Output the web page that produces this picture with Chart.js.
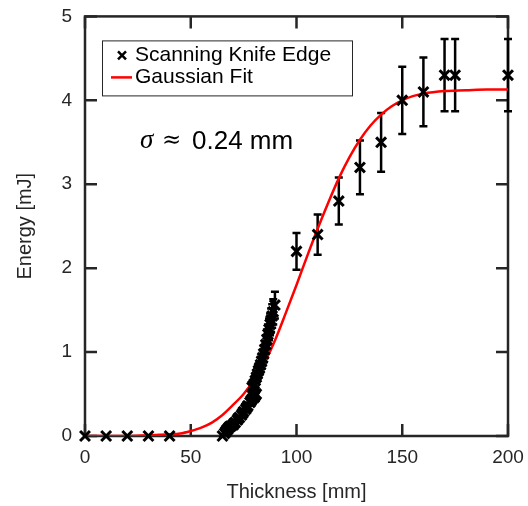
<!DOCTYPE html>
<html>
<head>
<meta charset="utf-8">
<script src="https://cdn.jsdelivr.net/npm/chart.js@4.4.1/dist/chart.umd.min.js"></script>
<style>
  html, body { margin: 0; padding: 0; background: #fff; }
  #wrap { width: 528px; height: 506px; }
</style>
</head>
<body>
<div id="wrap"><canvas id="myChart"></canvas></div>
<script>
// knife edge scan (thickness in mm, energy in mJ, +/- error)
const knifeX = [0, 10, 20, 30, 40,
  65, 66, 66.5, 67, 67.5, 68, 68.5, 69, 70, 70.5, 71, 72, 72.5, 73, 74, 74.5, 75, 76, 76.5, 77, 78, 78.5, 79, 80, 80.5, 81,
  79, 79.5, 80, 80.5, 81, 81.5, 82, 82.5, 83, 83.5, 84, 84.5, 85, 85.5, 86, 86.5, 87, 87.5, 88, 88.5, 89, 89.8,
  100, 110, 120, 130, 140, 150, 160, 170, 175, 200];
const knifeY = [0, 0, 0, 0, 0,
  0, 0.03, 0.05, 0.07, 0.08, 0.1, 0.11, 0.12, 0.13, 0.15, 0.16, 0.19, 0.21, 0.22, 0.25, 0.27, 0.29, 0.32, 0.34, 0.36, 0.4, 0.42, 0.44, 0.46, 0.48, 0.5,
  0.58, 0.6, 0.62, 0.66, 0.7, 0.74, 0.78, 0.81, 0.85, 0.89, 0.93, 0.98, 1.03, 1.09, 1.15, 1.21, 1.27, 1.33, 1.38, 1.43, 1.48, 1.56,
  2.2, 2.4, 2.8, 3.2, 3.5, 4.0, 4.1, 4.3, 4.3, 4.3];
const knifeErr = [0, 0, 0, 0, 0,
  0, 0, 0.01, 0.01, 0.01, 0.01, 0.01, 0.01, 0.01, 0.02, 0.02, 0.02, 0.02, 0.02, 0.03, 0.03, 0.03, 0.03, 0.03, 0.04, 0.04, 0.04, 0.04, 0.05, 0.05, 0.05,
  0.06, 0.06, 0.06, 0.07, 0.07, 0.07, 0.08, 0.08, 0.09, 0.09, 0.09, 0.1, 0.1, 0.11, 0.12, 0.12, 0.13, 0.13, 0.14, 0.14, 0.15, 0.16,
  0.22, 0.24, 0.28, 0.32, 0.35, 0.4, 0.41, 0.43, 0.43, 0.43];

// gaussian fit curve
const fitX = [0, 10, 20, 30, 40, 45, 50, 55, 60, 65, 70, 75, 80, 85, 90, 95, 100, 105, 110, 115, 120, 125, 130, 135, 140, 145, 150, 155, 160, 170, 180, 190, 200];
const fitY = [0, 0, 0, 0.01, 0.02, 0.03, 0.06, 0.1, 0.16, 0.25, 0.37, 0.5, 0.67, 0.88, 1.15, 1.47, 1.8, 2.14, 2.47, 2.78, 3.07, 3.32, 3.53, 3.7, 3.83, 3.93, 4.0, 4.05, 4.08, 4.11, 4.12, 4.13, 4.13];

const xTicks = [0, 50, 100, 150, 200];
const yTicks = [0, 1, 2, 3, 4, 5];
const seriesNames = ["Scanning Knife Edge", "Gaussian Fit"];

const axisColor = "#262626";
const sans = "'Liberation Sans', Arial, sans-serif";

// box + inward ticks on all four sides, then error bars
const framePlugin = {
  id: "frame",
  beforeDatasetsDraw(chart) {
    const { ctx, chartArea: a, scales: { x, y } } = chart;
    ctx.save();
    ctx.strokeStyle = axisColor;
    ctx.lineWidth = 2.5;
    ctx.strokeRect(a.left, a.top, a.right - a.left, a.bottom - a.top);
    ctx.beginPath();
    xTicks.forEach((v) => {
      const px = x.getPixelForValue(v);
      ctx.moveTo(px, a.bottom); ctx.lineTo(px, a.bottom - 12);
      ctx.moveTo(px, a.top); ctx.lineTo(px, a.top + 12);
    });
    yTicks.forEach((v) => {
      const py = y.getPixelForValue(v);
      ctx.moveTo(a.left, py); ctx.lineTo(a.left + 12, py);
      ctx.moveTo(a.right, py); ctx.lineTo(a.right - 12, py);
    });
    ctx.stroke();

    ctx.strokeStyle = "#000";
    ctx.lineWidth = 2.5;
    ctx.beginPath();
    knifeX.forEach((v, i) => {
      const e = knifeErr[i];
      if (!e) return;
      const px = x.getPixelForValue(v);
      const y1 = y.getPixelForValue(knifeY[i] + e);
      const y2 = y.getPixelForValue(knifeY[i] - e);
      ctx.moveTo(px, y1); ctx.lineTo(px, y2);
      ctx.moveTo(px - 4, y1); ctx.lineTo(px + 4, y1);
      ctx.moveTo(px - 4, y2); ctx.lineTo(px + 4, y2);
    });
    ctx.stroke();
    ctx.restore();
  },
  afterDraw(chart) {
    const { ctx, chartArea: a } = chart;
    ctx.save();
    // legend box
    const lx = a.left + 17, ly = a.top + 24;
    ctx.fillStyle = "#fff";
    ctx.fillRect(lx, ly, 250, 55);
    ctx.strokeStyle = axisColor;
    ctx.lineWidth = 1;
    ctx.strokeRect(lx + 0.5, ly + 0.5, 250, 55);

    ctx.strokeStyle = "#000";
    ctx.lineWidth = 2.5;
    ctx.beginPath();
    const mx = lx + 20, my = ly + 15;
    ctx.moveTo(mx - 4, my - 4); ctx.lineTo(mx + 4, my + 4);
    ctx.moveTo(mx - 4, my + 4); ctx.lineTo(mx + 4, my - 4);
    ctx.stroke();

    ctx.strokeStyle = "#ff0000";
    ctx.beginPath();
    ctx.moveTo(lx + 9, ly + 37); ctx.lineTo(lx + 30, ly + 37);
    ctx.stroke();

    ctx.fillStyle = "#000";
    ctx.font = "21px " + sans;
    ctx.textBaseline = "middle";
    ctx.fillText(seriesNames[0], lx + 33, ly + 15);
    ctx.fillText(seriesNames[1], lx + 33, ly + 37);

    // sigma annotation
    const ty = a.top + 125;
    ctx.font = "italic 27px 'Liberation Serif', 'DejaVu Serif', serif";
    ctx.fillText("σ", a.left + 55, ty);
    ctx.font = "23px 'DejaVu Serif', serif";
    ctx.fillText("≈", a.left + 77, ty);
    ctx.font = "26px " + sans;
    ctx.fillText("0.24 mm", a.left + 107, ty);
    ctx.restore();
  },
};

const data = {
  datasets: [
    {
      label: seriesNames[0],
      type: "scatter",
      data: knifeX.map((v, i) => ({ x: v, y: knifeY[i] })),
      pointStyle: "crossRot",
      pointRadius: 7,
      pointBorderWidth: 3,
      borderColor: "#000",
      backgroundColor: "#000",
      clip: false,
      order: 0,
    },
    {
      label: seriesNames[1],
      type: "line",
      data: fitX.map((v, i) => ({ x: v, y: fitY[i] })),
      borderColor: "#ff0000",
      borderWidth: 2.5,
      pointRadius: 0,
      cubicInterpolationMode: "monotone",
      fill: false,
      order: 1,
    },
  ],
};

const config = {
  type: "scatter",
  data: data,
  plugins: [framePlugin],
  options: {
    responsive: true,
    maintainAspectRatio: false,
    animation: false,
    layout: { padding: { top: 13, right: 20, left: 0, bottom: 0 } },
    plugins: {
      legend: { display: false },
      tooltip: { enabled: false },
    },
    scales: {
      x: {
        type: "linear",
        min: 0,
        max: 200,
        afterFit: (s) => { s.height = 70; },
        afterBuildTicks: (s) => { s.ticks = xTicks.map((v) => ({ value: v })); },
        grid: { display: false },
        border: { display: false },
        ticks: { color: axisColor, font: { size: 19, family: sans }, padding: 2, maxRotation: 0 },
        title: {
          display: true,
          text: "Thickness [mm]",
          color: axisColor,
          font: { size: 20, family: sans },
          padding: { top: 0, bottom: 2 },
        },
      },
      y: {
        type: "linear",
        min: 0,
        max: 5,
        afterFit: (s) => { s.width = 85; },
        afterBuildTicks: (s) => { s.ticks = yTicks.map((v) => ({ value: v })); },
        grid: { display: false },
        border: { display: false },
        ticks: { color: axisColor, font: { size: 19, family: sans }, padding: 5 },
        title: {
          display: true,
          text: "Energy [mJ]",
          color: axisColor,
          font: { size: 20, family: sans },
          padding: { top: 13, bottom: 0 },
        },
      },
    },
  },
};

const myChart = new Chart(document.getElementById("myChart").getContext("2d"), config);
</script>
</body>
</html>
